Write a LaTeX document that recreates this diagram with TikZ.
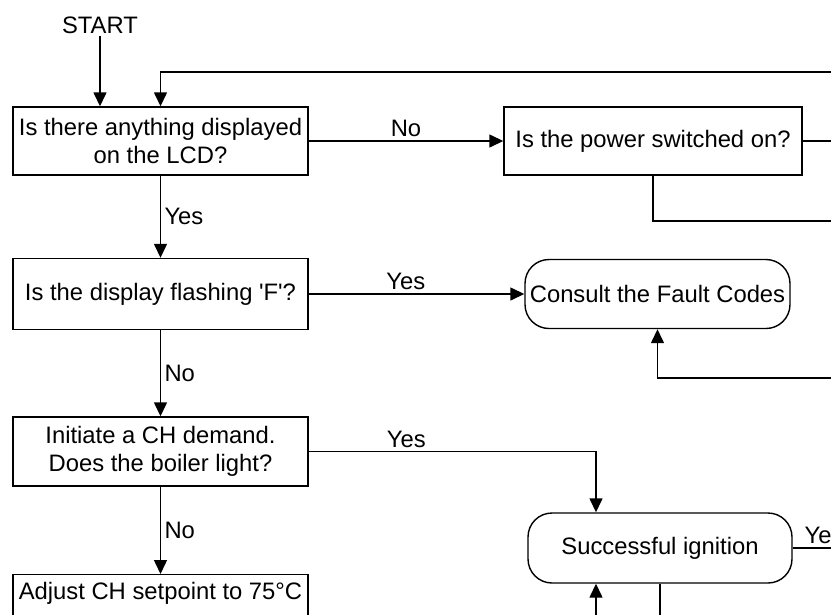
\documentclass[tikz,border=0pt]{standalone}
\usepackage{fontspec}
\setmainfont{Liberation Sans}
\usetikzlibrary{arrows.meta}
\tikzset{font={\fontsize{23.8pt}{28pt}\selectfont}}

\begin{document}
\begin{tikzpicture}[x=1pt,y=-1pt,line width=1.4pt,
    box/.style={draw,rectangle,inner sep=0pt,align=center,minimum width=295pt,minimum height=68pt},
    endbox/.style={draw,rounded corners=24pt,inner sep=0pt,align=center,minimum width=265pt,minimum height=69pt},
    arr/.style={-{Triangle[length=14pt,width=13pt]}}]
      \useasboundingbox (0,0) rectangle (831,614);
      \clip (0,0) rectangle (831,614);
      %questions
      \node[inner sep=2pt] (start) at (100,25) {START};
      \node[box] (lcd) at (160.5,141) {Is there anything displayed\\on the LCD?};
      \node[box,minimum width=298pt] (power) at (653,141) {Is the power switched on?};
      \node[box,minimum height=71pt] (flash) at (160.5,294) {Is the display flashing \textquotesingle F\textquotesingle?};
      \node[box,minimum height=69pt] (demand) at (160.5,451.5) {Initiate a CH demand.\\Does the boiler light?};
      \node[box,anchor=north] (adjust) at (160.5,574) {Adjust CH setpoint to 75°C\\\strut};
      %results
      \node[endbox] (fault) at (657.5,294) {Consult the Fault Codes};
      \node[endbox,minimum width=264pt,minimum height=70pt] (ignition) at (660,548) {Successful ignition};
      %loose ends
      \coordinate (topR) at (831,72);
      \coordinate (pwrR) at (831,141);
      \coordinate (pwrB) at (831,221);
      \coordinate (faultR) at (831,378);
      \coordinate (ignR) at (831,548);
      \coordinate (ignB) at (596,620);
      \coordinate (ignD) at (660,620);
      %arrows
      \draw[arr] (start.south) -- (start.south |- lcd.north);
      \draw[arr] (topR) -| (lcd.north);
      \draw[arr] (lcd.east) -- node[above] {No} (power.west);
      \draw (power.east) -- (pwrR);
      \draw (power.south) |- (pwrB);
      \draw[arr] (lcd.south) -- node[right] {Yes} (flash.north);
      \draw[arr] (flash.east) -- node[above,pos=0.45] {Yes} (fault.west);
      \draw[arr] (faultR) -| (fault.south);
      \draw[arr] (flash.south) -- node[right] {No} (demand.north);
      \draw[arr] (demand.east) -| node[above,pos=0.17] {Yes} ([xshift=-64pt]ignition.north);
      \draw[arr] (demand.south) -- node[right] {No} (adjust.north);
      \draw (ignition.east) -- node[anchor=south west,pos=0,xshift=8pt] {Yes} (ignR);
      \draw[arr] (ignB) -- (ignB |- ignition.south);
      \draw (ignition.south) -- (ignD);
    \end{tikzpicture}
\end{document}
